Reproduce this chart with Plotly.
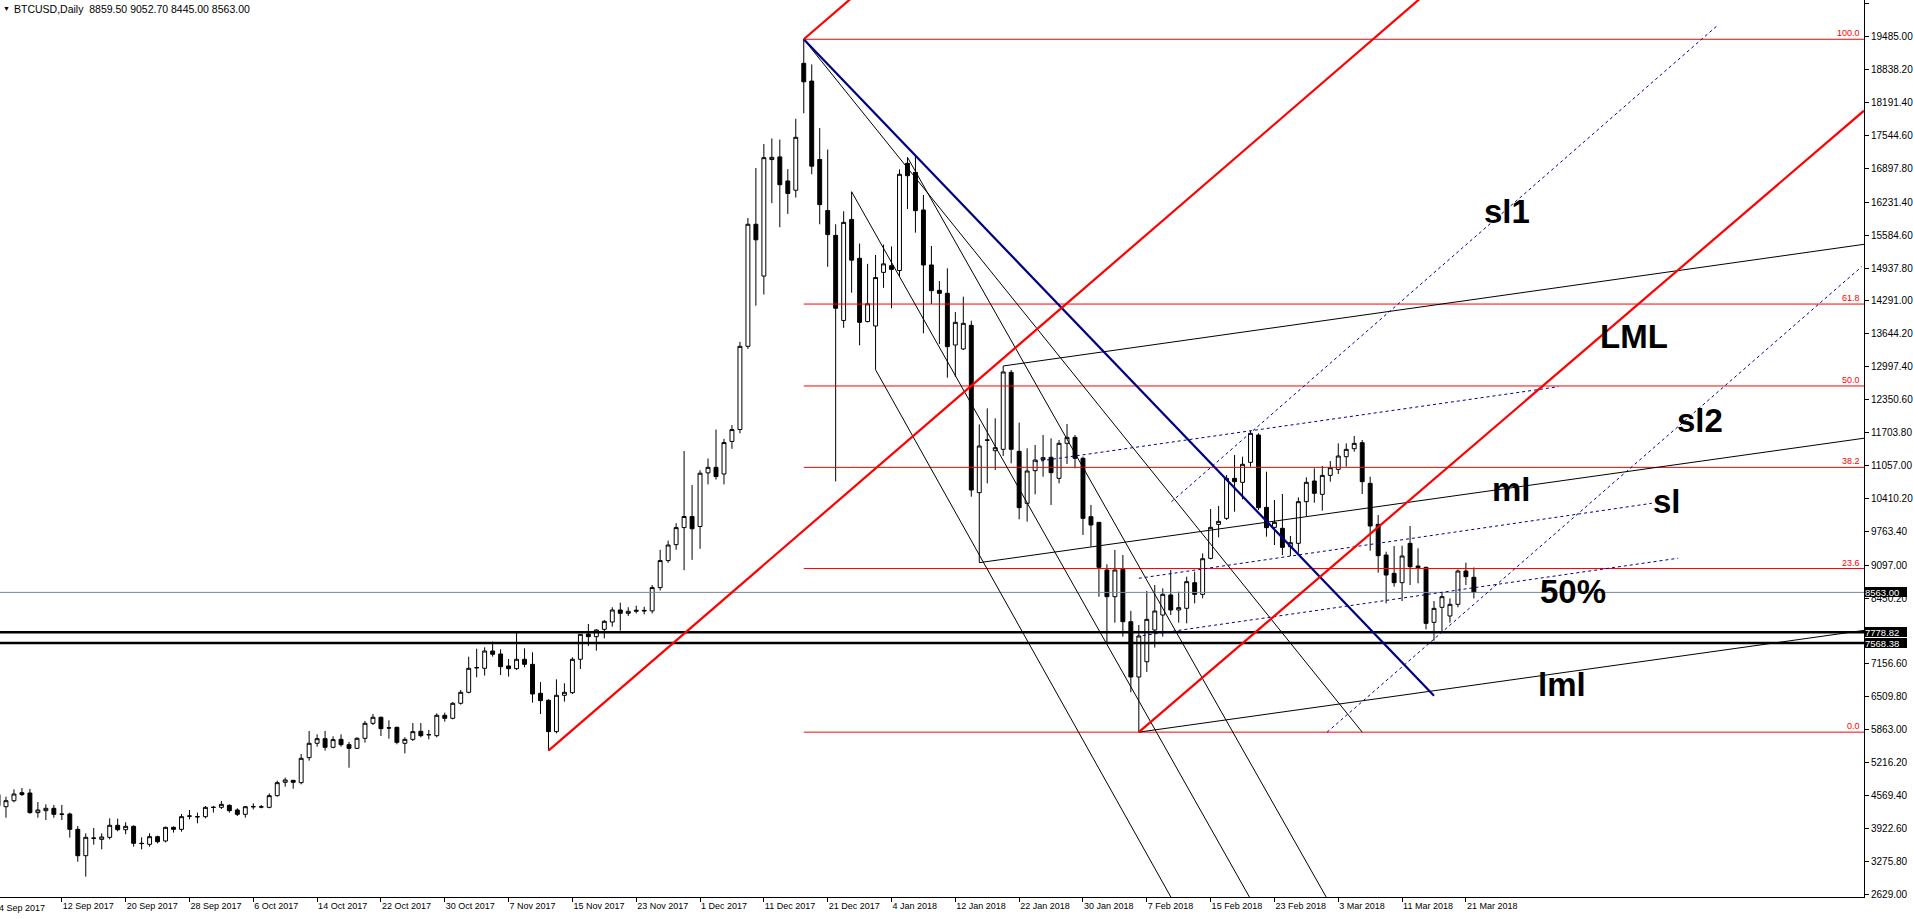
import plotly.graph_objects as go

# daily BTCUSD bars, bar index 0 = 4 Sep 2017 (broker skips some days)
opens = [
    4590, 4351, 4469, 4626, 4620, 4234, 4273, 4319, 4201, 4207,
    3906, 3388, 3736, 3709, 3749, 3985, 3899, 3965, 3625, 3611,
    3762, 3677, 3945, 3906, 4164, 4150, 4155, 4335, 4338, 4378,
    4286, 4201, 4348, 4343, 4338, 4568, 4830, 4869, 4823, 5315,
    5597, 5688, 5518, 5675, 5570, 5498, 5695, 5990, 6108, 5901,
    5911, 5597, 5675, 5832, 5767, 5747, 6147, 6088, 6383, 6599,
    7080, 7071, 7411, 7352, 7117, 7064, 7248, 7149, 6579, 6442,
    5826, 6540, 6592, 7248, 7745, 7693, 7837, 7981, 8217, 8152,
    8191, 8210, 8200, 8657, 9188, 9501, 9836, 10054, 9858, 10912,
    11021, 10890, 11530, 11763, 13399, 15798, 14780, 17070, 17122, 16649,
    16467, 18961, 18612, 17071, 16067, 15580, 13908, 15893, 15129, 13886,
    13799, 14853, 14984, 14889, 16996, 16819, 16079, 14998, 14500, 14441,
    13425, 13347, 13812, 10523, 11560, 11348, 11375, 12888, 11335, 10313,
    10955, 11171, 11218, 10805, 11493, 11610, 11198, 10051, 9940, 9003,
    8479, 9016, 7987, 6900, 7200, 7824, 8118, 8512, 8217, 8250,
    8754, 8524, 9232, 9900, 10018, 10804, 10726, 11119, 11656, 10234,
    9841, 9822, 9461, 9527, 10346, 10752, 10490, 10863, 10981, 11230,
    11387, 11505, 10706, 9900, 9297, 8937, 8754, 9527, 9081, 9055,
    7974, 8269, 8099, 8328, 8983, 8859.5]
highs = [
    4600, 4548, 4692, 4718, 4699, 4443, 4397, 4384, 4384, 4234,
    3971, 3827, 3932, 3827, 4122, 4116, 4044, 3985, 3749, 3827,
    3781, 3958, 3965, 4207, 4286, 4234, 4365, 4365, 4463, 4397,
    4319, 4365, 4417, 4384, 4613, 4863, 4922, 4869, 5387, 5839,
    5773, 5839, 5734, 5773, 5623, 5715, 6036, 6173, 6121, 6049,
    5924, 5715, 5996, 5996, 5858, 6186, 6199, 6409, 6645, 7300,
    7457, 7483, 7595, 7444, 7254, 7791, 7464, 7385, 6802, 6462,
    6854, 6776, 7287, 7745, 7942, 7837, 8021, 8270, 8361, 8270,
    8300, 8280, 8708, 9399, 9581, 9923, 11341, 10672, 10963, 11195,
    11763, 11581, 11850, 13486, 15922, 16904, 17376, 17485, 17463, 16882,
    17871, 19434, 18940, 17689, 17267, 15798, 16053, 16438, 15420, 15020,
    15195, 15398, 15362, 16878, 17114, 17147, 16373, 15371, 14683, 14932,
    14074, 14375, 13904, 11866, 12180, 11984, 13013, 12934, 11899, 11394,
    11460, 11656, 11591, 11558, 11873, 11656, 11231, 10281, 9940, 9114,
    9396, 9298, 8200, 7922, 8590, 8708, 8643, 9003, 8577, 8872,
    8970, 9330, 10202, 10261, 10870, 11263, 11230, 11741, 11689, 10935,
    10379, 10497, 9671, 10431, 10824, 11001, 11047, 11145, 11492, 11492,
    11636, 11558, 10837, 10084, 9363, 9475, 9481, 9868, 9429, 9068,
    8393, 8557, 8446, 9016, 9147, 9052.7]
lows = [
    4330, 4135, 4437, 4561, 4214, 4135, 4089, 4135, 4089, 3742,
    3270, 2976, 3605, 3513, 3709, 3867, 3808, 3565, 3513, 3565,
    3631, 3650, 3841, 3860, 4103, 4024, 4122, 4234, 4306, 4234,
    4168, 4135, 4299, 4319, 4319, 4548, 4745, 4705, 4790, 5256,
    5531, 5452, 5498, 5531, 5118, 5485, 5610, 5957, 5741, 5688,
    5577, 5400, 5642, 5715, 5675, 5714, 6022, 6068, 6357, 6579,
    6894, 6927, 7300, 6940, 6907, 7038, 7090, 6396, 6173, 5452,
    5793, 6416, 6566, 7058, 7510, 7418, 7660, 7890, 7811, 8100,
    8150, 8130, 8150, 8599, 9145, 9399, 8999, 9203, 9421, 10686,
    10781, 10686, 11384, 11690, 13348, 14198, 14417, 16213, 15740, 16002,
    16322, 17980, 16780, 15798, 14962, 10745, 13762, 14453, 13420, 13870,
    12940, 14548, 14148, 14780, 16098, 15633, 13655, 14231, 13445, 12783,
    12800, 13327, 10444, 9147, 10706, 10968, 11244, 11099, 9999, 9953,
    10490, 10837, 10281, 10706, 11086, 11001, 9691, 9462, 8479, 7562,
    7968, 7693, 6600, 5816, 7000, 7477, 7693, 8118, 7968, 7955,
    8348, 8446, 9212, 9645, 9985, 10149, 10392, 11034, 10182, 9658,
    9494, 9297, 9278, 9343, 10064, 10326, 10169, 10739, 10890, 11034,
    11328, 10497, 9383, 8950, 8348, 8675, 8393, 8708, 8741, 7837,
    7614, 7791, 7967, 8269, 8708, 8445]
closes = [
    4370, 4469, 4600, 4590, 4234, 4286, 4319, 4201, 4205, 3906,
    3388, 3749, 3730, 3755, 3985, 3899, 3965, 3631, 3630, 3762,
    3663, 3945, 3906, 4155, 4168, 4155, 4338, 4340, 4397, 4273,
    4201, 4351, 4352, 4348, 4568, 4823, 4876, 4830, 5302, 5597,
    5688, 5518, 5669, 5570, 5498, 5695, 5990, 6108, 5885, 5898,
    5616, 5675, 5826, 5747, 5765, 6147, 6088, 6383, 6599, 7071,
    7084, 7411, 7346, 7103, 7064, 7248, 7149, 6566, 6435, 5826,
    6540, 6599, 7248, 7739, 7693, 7824, 7994, 8217, 8152, 8191,
    8210, 8200, 8657, 9188, 9494, 9836, 10054, 9814, 10905, 11021,
    10839, 11508, 11763, 13399, 15798, 15493, 17107, 17114, 16576, 16402,
    17507, 18598, 16940, 16184, 15595, 14148, 15835, 15093, 13871, 14235,
    14751, 15020, 14911, 16780, 16753, 16066, 14998, 14493, 14441, 13393,
    13871, 13851, 10575, 11440, 11555, 11407, 12895, 11375, 10228, 10949,
    11165, 11211, 10916, 11493, 11610, 11198, 10018, 9887, 9055, 8479,
    9003, 7987, 6900, 7706, 8033, 8197, 8525, 8217, 8263, 8774,
    8524, 9225, 9841, 9959, 10804, 10739, 11080, 11689, 10228, 9835,
    9940, 9448, 9540, 10346, 10726, 10510, 10863, 11014, 11243, 11374,
    11492, 10739, 9868, 9284, 8904, 8754, 9278, 9068, 9049, 7954,
    8249, 8479, 8328, 8983, 8872, 8563]
bars = list(range(len(opens)))

tick_bars = [0, 8, 16, 24, 32, 40, 48, 56, 64, 72, 80, 88,
             96, 104, 112, 120, 128, 136, 144, 152, 160, 168, 176, 184]
tick_dates = ["4 Sep 2017", "12 Sep 2017", "20 Sep 2017", "28 Sep 2017", "6 Oct 2017",
              "14 Oct 2017", "22 Oct 2017", "30 Oct 2017", "7 Nov 2017", "15 Nov 2017",
              "23 Nov 2017", "1 Dec 2017", "11 Dec 2017", "21 Dec 2017", "4 Jan 2018",
              "12 Jan 2018", "22 Jan 2018", "30 Jan 2018", "7 Feb 2018", "15 Feb 2018",
              "23 Feb 2018", "3 Mar 2018", "11 Mar 2018", "21 Mar 2018"]

# 7803.40 sits under the level boxes in the terminal, so it is left out
price_ticks = [20131.8, 19485.0, 18838.2, 18191.4, 17544.6, 16897.8, 16231.4, 15584.6,
               14937.8, 14291.0, 13644.2, 12997.4, 12350.6, 11703.8, 11057.0, 10410.2,
               9763.4, 9097.0, 8450.2, 7156.6, 6509.8, 5863.0, 5216.2,
               4569.4, 3922.6, 3275.8, 2629.0]

# fibonacci retracement (peak bar 101 -> low bar 143)
fib_prices = [19434, 14230, 12620, 11020, 9032, 5816]
fib_names = ["100.0", "61.8", "50.0", "38.2", "23.6", "0.0"]
fib_from = 101

last_price = 8563.00
levels = [7778.82, 7568.38]

x_end = 233.9

# drawn objects as (bar0, price0, bar1, price1)
red_fork = [(69, 5452, 180, 20470), (101, 19434, 110, 20652), (143, 5816, x_end, 18030)]
blue_trend = [(101, 19434, 180, 6533)]
black_fork = [(123, 9147, x_end, 11593), (126, 13013, x_end, 15404), (143, 5816, x_end, 7816)]
black_fan = [(101, 19434, 171, 5816), (110, 12940, 148, 2300),
             (107, 16438, 158, 2260), (114, 17114, 167, 2433)]
dotted = [(147.1, 10346, 215.6, 19715), (166.6, 5816, 233.6, 14963),
          (130, 11132, 195.6, 12606), (143, 8840, 207.3, 10314),
          (143.5, 7714, 210.6, 9235)]

tags = ["sl1", "LML", "sl2", "ml", "sl", "50%", "lml"]
tag_bars = [189.1, 205.1, 213.4, 189.75, 209.25, 197.4, 196.1]
tag_prices = [16058, 13583, 11951, 10595, 10340, 8590, 6762]


def seg_trace(segs, color, width, dash="solid"):
    xs, ys = [], []
    for x0, y0, x1, y1 in segs:
        xs += [x0, x1, None]
        ys += [y0, y1, None]
    return go.Scatter(x=xs, y=ys, mode="lines", hoverinfo="skip", showlegend=False,
                      line=dict(color=color, width=width, dash=dash))


fig = go.Figure()

# fib levels
for p in fib_prices:
    fig.add_trace(seg_trace([(fib_from, p, x_end, p)], "#ff0000", 1))
fig.add_trace(go.Scatter(x=[0.25, x_end], y=[last_price, last_price], mode="lines",
                         line=dict(color="#778899", width=1), hoverinfo="skip", showlegend=False))
for lv in levels:
    fig.add_trace(seg_trace([(0.25, lv, x_end, lv)], "black", 2.5))

fig.add_trace(seg_trace(black_fan, "black", 1))
fig.add_trace(seg_trace(black_fork, "black", 1))
fig.add_trace(seg_trace(dotted, "#00008b", 1, "3px,3px"))

fig.add_trace(go.Candlestick(
    x=bars, open=opens, high=highs, low=lows, close=closes,
    increasing=dict(line=dict(color="black", width=1), fillcolor="white"),
    decreasing=dict(line=dict(color="black", width=1), fillcolor="black"),
    whiskerwidth=0, showlegend=False, hoverinfo="skip"))

fig.add_trace(seg_trace(blue_trend, "#000080", 2.2))
fig.add_trace(seg_trace(red_fork, "#ff0000", 2.2))

annotations = []
for p, n in zip(fib_prices, fib_names):
    annotations.append(dict(x=1, xref="paper", y=p, yref="y", text=n, showarrow=False,
                            xanchor="right", yanchor="bottom", xshift=-2, yshift=-1,
                            font=dict(color="#ff0000", size=9)))
box_shift = [0, 0.5, -0.5]
for v, s in zip([last_price] + levels, box_shift):
    annotations.append(dict(x=1, xref="paper", y=v, yref="y", text="%.2f" % v,
                            showarrow=False, xanchor="left", yanchor="middle", xshift=1,
                            yshift=s, height=10, width=42, align="left", valign="middle",
                            bgcolor="black", borderpad=0, borderwidth=0,
                            font=dict(color="white", size=9.5)))
for t, bx, py in zip(tags, tag_bars, tag_prices):
    annotations.append(dict(x=bx, y=py, text="<b>" + t + "</b>", showarrow=False,
                            font=dict(color="black", size=33, family="Liberation Sans, Arial")))
annotations.append(dict(x=0, xref="paper", y=1, yref="paper", text="BTCUSD,Daily  8859.50 9052.70 8445.00 8563.00",
                        showarrow=False, xanchor="left", yanchor="top", xshift=12, yshift=-1,
                        font=dict(size=10.5)))
annotations.append(dict(x=0, xref="paper", y=1, yref="paper", text="▼", showarrow=False,
                        xanchor="left", yanchor="top", xshift=1, yshift=-3, font=dict(size=7)))
annotations.append(dict(x=0, xref="paper", y=0, yref="paper", text=tick_dates[0], showarrow=False,
                        xanchor="left", yanchor="top", xshift=-3, yshift=-4, font=dict(size=9)))

fig.update_layout(
    width=1913, height=919,
    margin=dict(l=0, r=44, t=0, b=22, pad=0),
    paper_bgcolor="white", plot_bgcolor="white",
    font=dict(family="Liberation Sans, Arial", color="black", size=10),
    showlegend=False,
    annotations=annotations,
    xaxis=dict(range=[0.25, x_end], tickvals=tick_bars, ticktext=tick_dates,
               showgrid=False, zeroline=False, showline=True, linecolor="black", linewidth=1,
               ticks="outside", ticklen=4, tickcolor="black", tickfont=dict(size=9),
               ticklabelposition="outside right", rangeslider=dict(visible=False)),
    yaxis=dict(range=[2576, 20206], side="right", tickvals=price_ticks,
               ticktext=["%.2f" % v for v in price_ticks],
               showgrid=False, zeroline=False, showline=True, linecolor="black", linewidth=1,
               ticks="outside", ticklen=4, tickcolor="black", tickfont=dict(size=10)),
)

fig.write_html("out.html", config={"displayModeBar": False},
               post_script="document.body.style.margin='0';")
